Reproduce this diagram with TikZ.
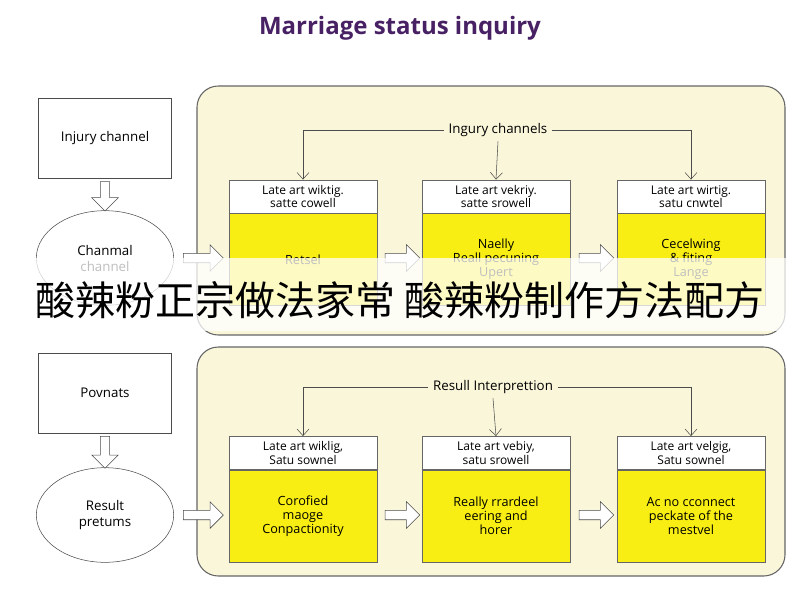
\documentclass[tikz,border=0pt]{standalone}
\usepackage{fontspec}
\setmainfont{Open Sans}
\newfontfamily\cjk{Noto Sans CJK SC}
\usetikzlibrary{shapes.arrows,shapes.geometric,positioning,arrows.meta}
\definecolor{panelbg}{RGB}{250,246,218}
\definecolor{boxyellow}{RGB}{248,238,20}
\definecolor{titlepurple}{RGB}{72,32,100}
\begin{document}
\begin{tikzpicture}[x=0.75pt,y=-0.75pt,font=\fontsize{10}{12}\selectfont,
  panel/.style={draw=black!60, fill=panelbg, rounded corners=16pt, line width=0.8pt},
  side/.style={draw=black!70, fill=white, minimum width=100pt, minimum height=60pt, align=center},
  circ/.style={draw=black!70, fill=white, ellipse, minimum width=103pt, minimum height=71pt, inner sep=0pt, align=center},
  head/.style={draw=black!60, fill=white, minimum width=111pt, minimum height=25pt, align=center, inner sep=1pt, font=\fontsize{9}{10}\selectfont},
  body/.style={draw=black!60, fill=boxyellow, minimum width=111pt, minimum height=69pt, align=center, font=\fontsize{9.5}{10.5}\selectfont},
  hollow/.style={single arrow, draw=black!70, fill=white, minimum height=#1, single arrow head extend=4pt, inner sep=2pt, minimum width=20pt},
  feed/.style={draw=black!70, -{Straight Barb[length=5pt,width=9pt]}}]
\useasboundingbox (0,0) rectangle (800,600);
\node[font=\fontsize{18}{20}\selectfont\bfseries, text=titlepurple] (title) at (400,28) {Marriage status inquiry};

% upper stage
\draw[panel] (197,86) rectangle (785,335);
\node[side] (inj) at (105,138) {Injury channel};
\node[circ] (chan) at (105,258) {Chanmal\\channel};
\node[hollow=22pt, rotate=-90] (a1) at (105,194) {};
\node[hollow=30pt] (a2) at (201,258) {};
\node (lab1) at (498,130) {Ingury channels};
\foreach \n/\x/\hd/\bd in {1/303/{Late art wiktig.\\satte cowell}/Retsel,
                           2/496/{Late art vekriy.\\satte srowell}/{Naelly\\Reall pecuning\\Upert},
                           3/691/{Late art wirtig.\\satu cnwtel}/{Cecelwing\\\& fiting\\Lange}}{
  \node[head] (h\n) at (\x,196.5) {\hd};
  \node[body, below=0pt of h\n, minimum height=69pt] (b\n) {\bd};
}
\draw[feed] (lab1.west) -| (h1.north);
\draw[feed] (lab1.east) -| (h3.north);
\draw[feed] (lab1.south) -- (h2.north);
\node[hollow=26pt] at (400,258) {};
\node[hollow=26pt] at (594,258) {};

% lower stage
\draw[panel] (197,347) rectangle (785,576);
\node[side] (pow) at (105,393) {Povnats};
\node[circ] (res) at (105,515) {Result\\pretums};
\node[hollow=24pt, rotate=-90] (a3) at (105,450) {};
\node[hollow=30pt] (a4) at (201,515) {};
\node (lab2) at (493,387) {Resull Interprettion};
\foreach \n/\x/\hd/\bd in {4/303/{Late art wiklig,\\Satu sownel}/{Corofied\\maoge\\Conpactionity},
                           5/496/{Late art vebiy,\\satu srowell}/{Really rrardeel\\eering and\\horer},
                           6/691/{Late art velgig,\\Satu sownel}/{Ac no cconnect\\peckate of the\\mestvel}}{
  \node[head] (h\n) at (\x,453) {\hd};
  \node[body, below=0pt of h\n] (b\n) {\bd};
}
\draw[feed] (lab2.west) -| (h4.north);
\draw[feed] (lab2.east) -| (h6.north);
\draw[feed] (lab2.south) -- (h5.north);
\node[hollow=26pt] at (400,515) {};
\node[hollow=26pt] at (594,515) {};

% banner
\fill[white, opacity=0.75] (0,258) rectangle (800,331);
\node[font=\cjk\fontsize{30}{34}\selectfont] (banner) at (400,300) {酸辣粉正宗做法家常 酸辣粉制作方法配方};
\end{tikzpicture}
\end{document}
